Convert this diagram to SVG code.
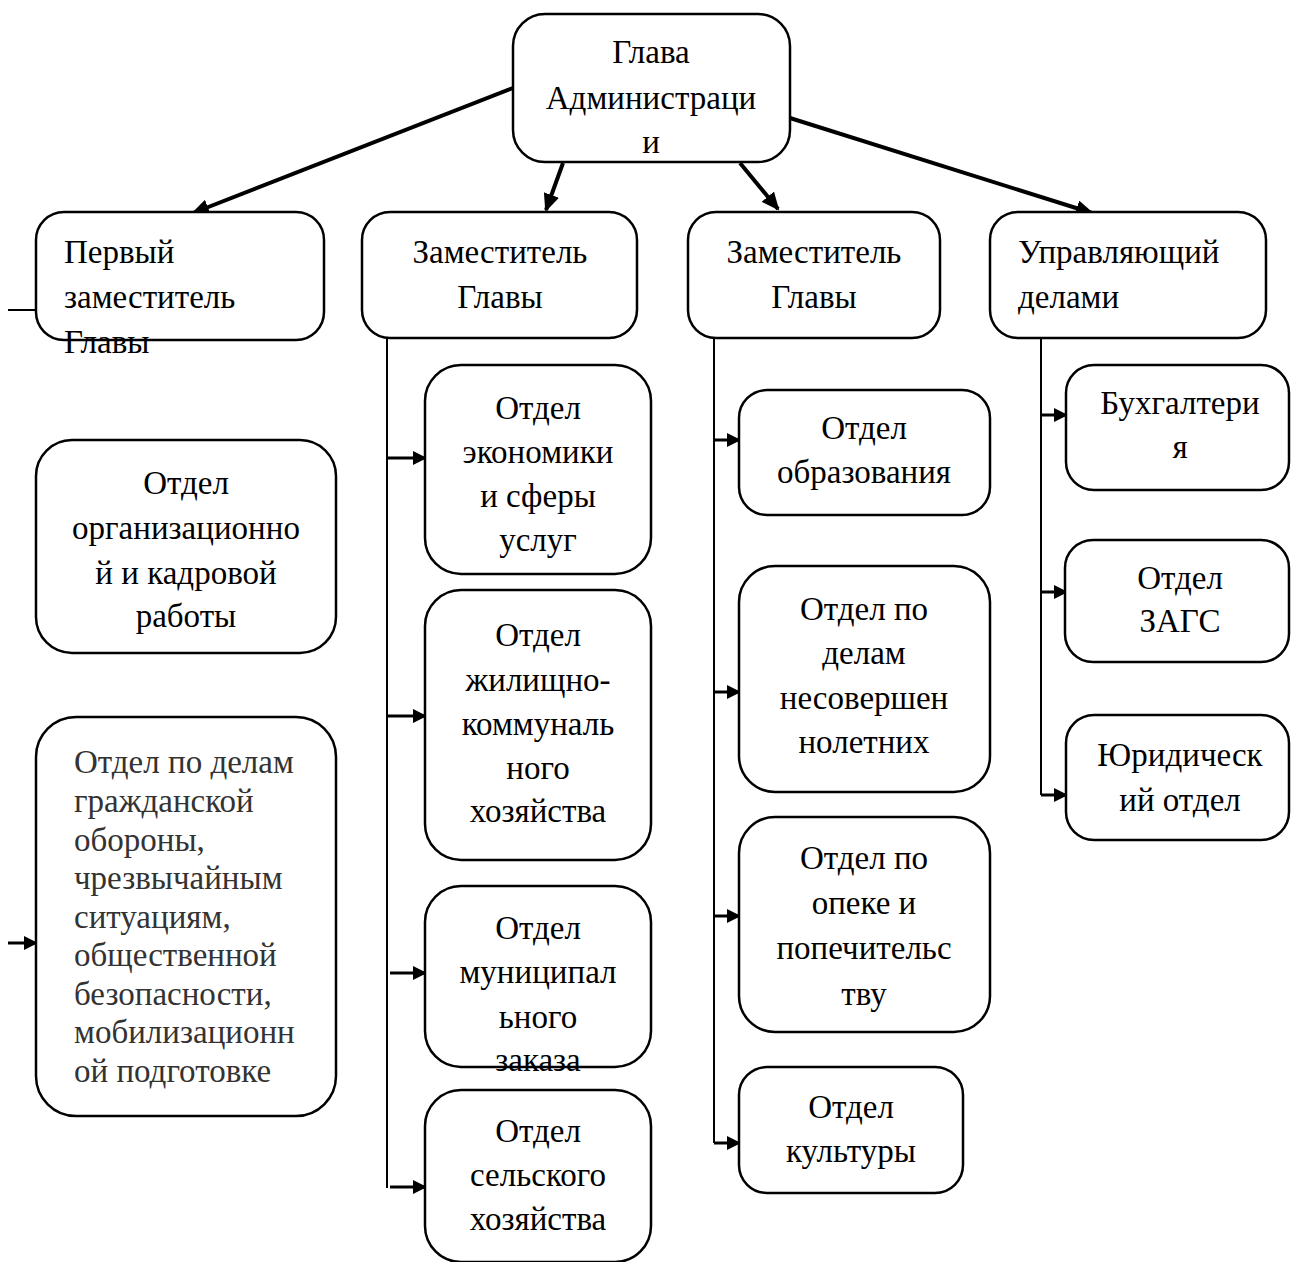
<svg xmlns="http://www.w3.org/2000/svg" width="1291" height="1262" viewBox="0 0 1291 1262">
<defs>
<marker id="ah2" markerWidth="14" markerHeight="14" refX="12" refY="7" orient="auto" markerUnits="userSpaceOnUse" viewBox="0 0 14 14">
<path d="M0,0 L14,7 L0,14 z" fill="#000"/>
</marker>
<marker id="ah3" markerWidth="18" markerHeight="16" refX="16" refY="8" orient="auto" markerUnits="userSpaceOnUse" viewBox="0 0 18 16">
<path d="M0,0 L18,8 L0,16 z" fill="#000"/>
</marker>
</defs>
<style>
text{font-family:'Liberation Serif',serif;font-size:33px;fill:#000}
.box{fill:#fff;stroke:#000;stroke-width:2.5}
.c{text-anchor:middle}
.g{fill:#333}
.ln{stroke:#000;stroke-width:2;fill:none}
.br{stroke:#000;stroke-width:3;fill:none;marker-end:url(#ah2)}
.top{stroke:#000;stroke-width:4;fill:none;marker-end:url(#ah3)}
</style>
<rect width="1291" height="1262" fill="#fff"/>

<g id="connectors">
<line class="top" x1="513" y1="88" x2="193" y2="213"/>
<line class="top" x1="563" y1="163" x2="546" y2="210"/>
<line class="top" x1="740" y1="163" x2="778" y2="209"/>
<line class="top" x1="790" y1="118" x2="1092" y2="213"/>
<line class="ln" x1="8" y1="310" x2="36" y2="310"/>
<line class="br" x1="8" y1="943" x2="36" y2="943"/>
<line class="ln" x1="387" y1="339" x2="387" y2="1188"/>
<line class="br" x1="387" y1="458" x2="425" y2="458"/>
<line class="br" x1="387" y1="716" x2="425" y2="716"/>
<line class="br" x1="390" y1="973" x2="425" y2="973"/>
<line class="br" x1="390" y1="1187" x2="425" y2="1187"/>
<line class="ln" x1="714" y1="338" x2="714" y2="1143"/>
<line class="br" x1="714" y1="440" x2="739" y2="440"/>
<line class="br" x1="714" y1="692" x2="739" y2="692"/>
<line class="br" x1="714" y1="916" x2="739" y2="916"/>
<line class="br" x1="714" y1="1143" x2="739" y2="1143"/>
<line class="ln" x1="1041" y1="338" x2="1041" y2="795"/>
<line class="br" x1="1041" y1="415" x2="1066" y2="415"/>
<line class="br" x1="1041" y1="592" x2="1066" y2="592"/>
<line class="br" x1="1041" y1="795" x2="1066" y2="795"/>
</g>

<g font-family="'Liberation Serif', serif" font-size="33">
<g id="head">
<rect class="box" x="513" y="14" width="277" height="148" rx="32"/>
<text class="c" x="651" y="63">Глава</text>
<text class="c" x="651" y="109">Администраци</text>
<text class="c" x="651" y="153">и</text>
</g>

<g id="dep1">
<rect class="box" x="36" y="212" width="288" height="128" rx="28"/>
<text x="64" y="263">Первый</text>
<text x="64" y="308">заместитель</text>
<text x="64" y="353">Главы</text>
</g>

<g id="dep2">
<rect class="box" x="362" y="212" width="275" height="126" rx="28"/>
<text class="c" x="500" y="263">Заместитель</text>
<text class="c" x="500" y="308">Главы</text>
</g>

<g id="dep3">
<rect class="box" x="688" y="212" width="252" height="126" rx="28"/>
<text class="c" x="814" y="263">Заместитель</text>
<text class="c" x="814" y="308">Главы</text>
</g>

<g id="manager">
<rect class="box" x="990" y="212" width="276" height="126" rx="28"/>
<text x="1018" y="263">Управляющий</text>
<text x="1018" y="308">делами</text>
</g>

<g id="org">
<rect class="box" x="36" y="440" width="300" height="213" rx="36"/>
<text class="c" x="186" y="494">Отдел</text>
<text class="c" x="186" y="539">организационно</text>
<text class="c" x="186" y="584">й и кадровой</text>
<text class="c" x="186" y="627">работы</text>
</g>

<g id="go">
<rect class="box" x="36" y="717" width="300" height="399" rx="40"/>
<text class="g" x="74" y="773">Отдел по делам</text>
<text class="g" x="74" y="812">гражданской</text>
<text class="g" x="74" y="851">обороны,</text>
<text class="g" x="74" y="889">чрезвычайным</text>
<text class="g" x="74" y="928">ситуациям,</text>
<text class="g" x="74" y="966">общественной</text>
<text class="g" x="74" y="1005">безопасности,</text>
<text class="g" x="74" y="1043">мобилизационн</text>
<text class="g" x="74" y="1082">ой подготовке</text>
</g>

<g id="econ">
<rect class="box" x="425" y="365" width="226" height="209" rx="36"/>
<text class="c" x="538" y="419">Отдел</text>
<text class="c" x="538" y="463">экономики</text>
<text class="c" x="538" y="507">и сферы</text>
<text class="c" x="538" y="551">услуг</text>
</g>

<g id="housing">
<rect class="box" x="425" y="590" width="226" height="270" rx="36"/>
<text class="c" x="538" y="646">Отдел</text>
<text class="c" x="538" y="691">жилищно-</text>
<text class="c" x="538" y="735">коммуналь</text>
<text class="c" x="538" y="779">ного</text>
<text class="c" x="538" y="822">хозяйства</text>
</g>

<g id="municipal">
<rect class="box" x="425" y="886" width="226" height="181" rx="36"/>
<text class="c" x="538" y="939">Отдел</text>
<text class="c" x="538" y="983">муниципал</text>
<text class="c" x="538" y="1028">ьного</text>
<text class="c" x="538" y="1071">заказа</text>
</g>

<g id="agri">
<rect class="box" x="425" y="1090" width="226" height="172" rx="36"/>
<text class="c" x="538" y="1142">Отдел</text>
<text class="c" x="538" y="1186">сельского</text>
<text class="c" x="538" y="1230">хозяйства</text>
</g>

<g id="edu">
<rect class="box" x="739" y="390" width="251" height="125" rx="28"/>
<text class="c" x="864" y="439">Отдел</text>
<text class="c" x="864" y="483">образования</text>
</g>

<g id="minors">
<rect class="box" x="739" y="566" width="251" height="226" rx="36"/>
<text class="c" x="864" y="620">Отдел по</text>
<text class="c" x="864" y="664">делам</text>
<text class="c" x="864" y="709">несовершен</text>
<text class="c" x="864" y="753">нолетних</text>
</g>

<g id="guardian">
<rect class="box" x="739" y="817" width="251" height="215" rx="36"/>
<text class="c" x="864" y="869">Отдел по</text>
<text class="c" x="864" y="914">опеке и</text>
<text class="c" x="864" y="959">попечительс</text>
<text class="c" x="864" y="1005">тву</text>
</g>

<g id="culture">
<rect class="box" x="739" y="1067" width="224" height="126" rx="28"/>
<text class="c" x="851" y="1118">Отдел</text>
<text class="c" x="851" y="1162">культуры</text>
</g>

<g id="accounting">
<rect class="box" x="1066" y="365" width="223" height="125" rx="28"/>
<text class="c" x="1180" y="414">Бухгалтери</text>
<text class="c" x="1180" y="458">я</text>
</g>

<g id="zags">
<rect class="box" x="1065" y="540" width="224" height="122" rx="28"/>
<text class="c" x="1180" y="589">Отдел</text>
<text class="c" x="1180" y="632">ЗАГС</text>
</g>

<g id="legal">
<rect class="box" x="1066" y="715" width="223" height="125" rx="28"/>
<text class="c" x="1180" y="766">Юридическ</text>
<text class="c" x="1180" y="811">ий отдел</text>
</g>
</g>
</svg>
